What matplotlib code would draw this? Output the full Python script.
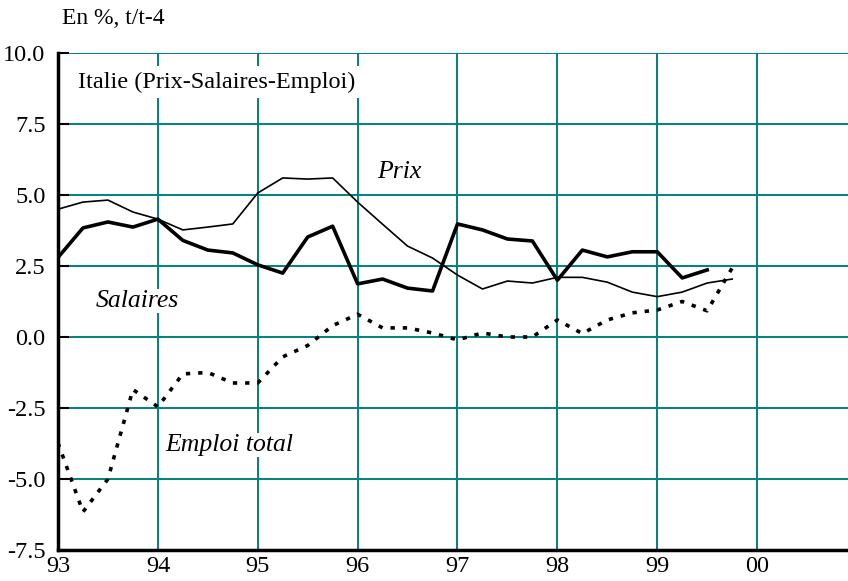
import numpy as np
import matplotlib.pyplot as plt

# ── Data (quarterly, % t/t-4) ─────────────────────────────────────────────────
quarters = [93 + 0.25 * i for i in range(28)]   # 93Q1 .. 99Q4

prix = [4.50, 4.75, 4.82, 4.40, 4.15, 3.77, 3.87, 3.98,
        5.07, 5.60, 5.56, 5.60, 4.75, 3.97, 3.20, 2.78,
        2.18, 1.69, 1.97, 1.90, 2.10, 2.10, 1.93, 1.58,
        1.42, 1.58, 1.90, 2.04]

salaires = [2.80, 3.84, 4.05, 3.87, 4.15, 3.40, 3.06, 2.96,
            2.54, 2.25, 3.52, 3.90, 1.87, 2.04, 1.72, 1.62,
            3.98, 3.77, 3.45, 3.38, 2.00, 3.06, 2.82, 3.00,
            3.00, 2.08, 2.36]

emploi = [-3.73, -6.16, -5.00, -1.85, -2.46, -1.30, -1.25, -1.62,
          -1.62, -0.70, -0.30, 0.40, 0.80, 0.32, 0.32, 0.14,
          -0.10, 0.14, 0.00, 0.00, 0.60, 0.12, 0.60, 0.85,
          0.95, 1.25, 0.92, 2.43]

x_ticks = [93, 94, 95, 96, 97, 98, 99, 100]
x_labels = ['93', '94', '95', '96', '97', '98', '99', '00']
y_ticks = [-7.5, -5.0, -2.5, 0.0, 2.5, 5.0, 7.5, 10.0]

# ── Plot ──────────────────────────────────────────────────────────────────────
plt.rcParams['font.family'] = ['Liberation Serif', 'DejaVu Serif']

fig = plt.figure(figsize=(8.48, 5.81), dpi=100)
ax = fig.add_axes([0.0684, 0.0534, 0.9316, 0.8554])

teal = '#008080'
ax.set_xlim(93, 100.91)
ax.set_ylim(-7.5, 10.0)
ax.set_xticks(x_ticks)
ax.set_xticklabels(x_labels)
ax.set_yticks(y_ticks)
ax.set_yticklabels([f'{v:.1f}' for v in y_ticks])
ax.grid(True, color=teal, linewidth=1.4)
ax.set_axisbelow(True)

for s in ['top', 'right']:
    ax.spines[s].set_visible(False)
ax.spines['left'].set_linewidth(2.5)
ax.spines['bottom'].set_linewidth(2.5)

ax.tick_params(axis='y', direction='in', length=8, width=1.5, labelsize=17.5, pad=9)
ax.tick_params(axis='x', length=0, labelsize=17.5, pad=4)

ax.plot(quarters, prix, color='black', linewidth=1.2)
ax.plot(quarters[:len(salaires)], salaires, color='black', linewidth=2.6)
ax.plot(quarters, emploi, color='black', linewidth=2.6,
        linestyle=(0, (1.2, 2.2)))

box = dict(facecolor='white', edgecolor='none', pad=1)
ax.text(93.2, 8.98, 'Italie (Prix-Salaires-Emploi)', fontsize=17.5,
        va='center', ha='left', bbox=dict(facecolor='white', edgecolor='none', pad=4))
ax.text(96.2, 5.8, 'Prix', fontsize=18.5, style='italic', va='center', bbox=box)
ax.text(93.38, 1.27, 'Salaires', fontsize=18.5, style='italic', va='center', bbox=box)
ax.text(94.07, -3.8, 'Emploi total', fontsize=18.5, style='italic', va='center', bbox=box)

fig.text(62 / 848, 1 - 19 / 581, 'En %, t/t-4', fontsize=17, va='center', ha='left')

plt.savefig('out.png', dpi=100)
